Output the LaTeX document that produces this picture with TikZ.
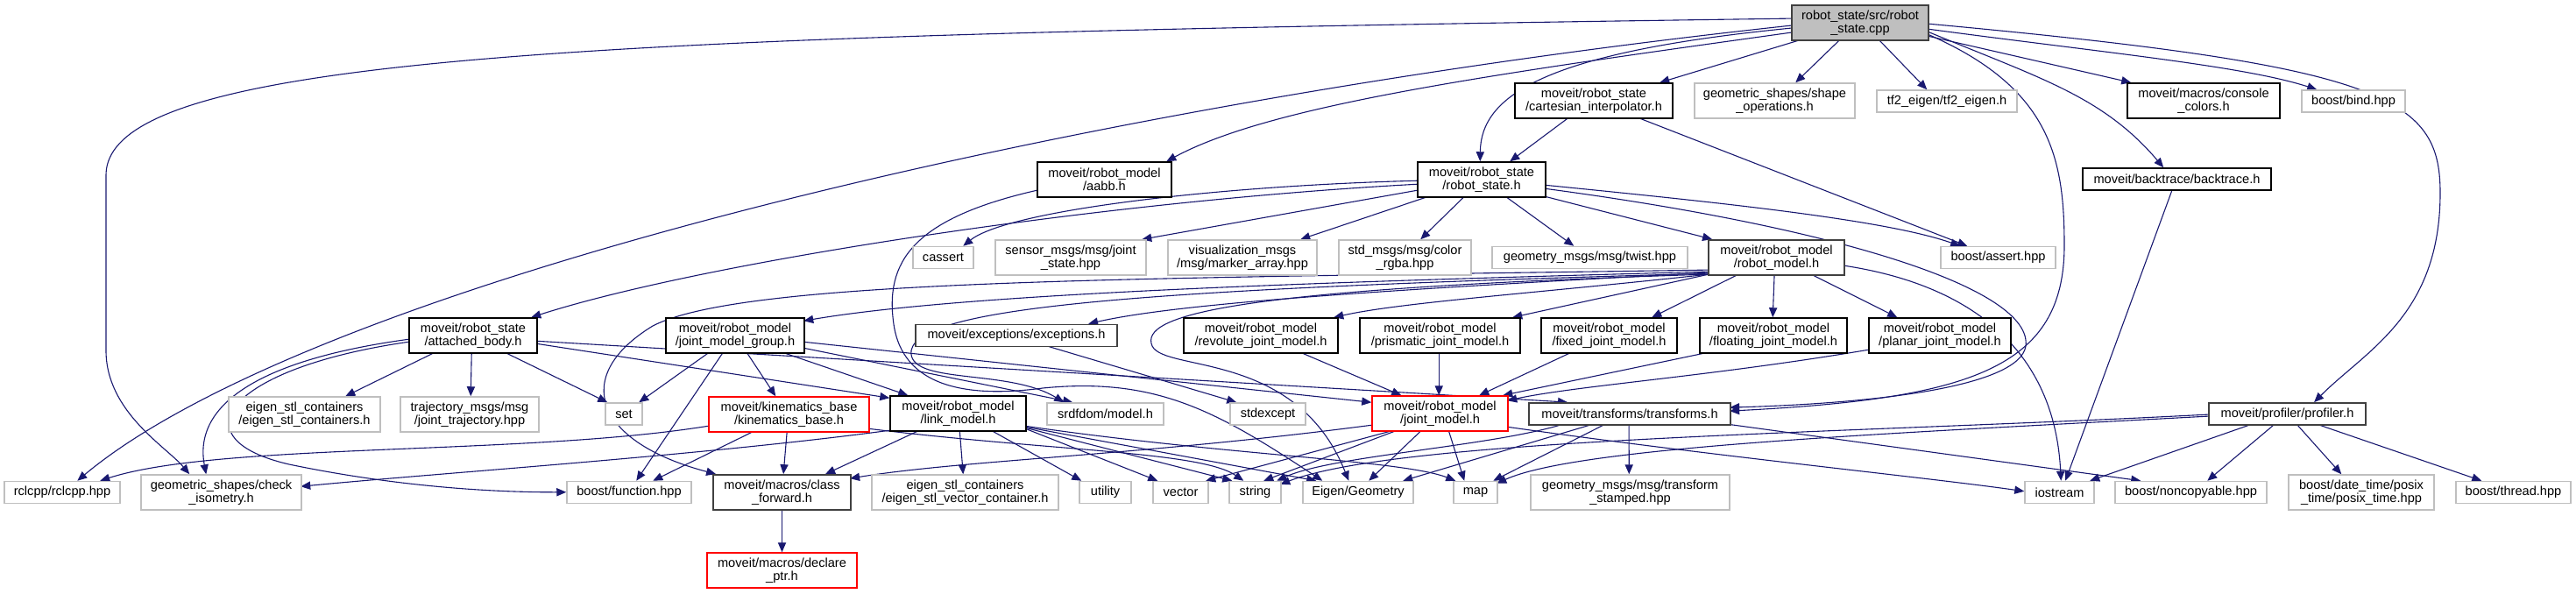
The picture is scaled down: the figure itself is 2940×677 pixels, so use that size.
\documentclass[tikz,border=0pt]{standalone}
\usepackage{fontspec}
\setmainfont{Liberation Sans}
\usetikzlibrary{arrows.meta,calc}
\definecolor{edgec}{HTML}{191970}
\definecolor{gbc}{HTML}{BFBFBF}
\definecolor{dbc}{HTML}{404040}
\definecolor{mainfill}{HTML}{BFBFBF}
\pgfdeclarelayer{bg}
\pgfsetlayers{bg,main}
\tikzset{
  e/.style={draw=edgec, line width=0.55pt, -{Triangle[length=5.5pt,width=4.6pt]}},
  nb/.style={rectangle, inner sep=0pt, align=center, fill=white, line width=0.75pt,
    font=\fontsize{7.3}{7.6}\selectfont},
  hA/.style={minimum height=12.5pt},
  hB/.style={minimum height=20pt},
  gb/.style={nb, draw=gbc},
  bb/.style={nb, draw=black},
  db/.style={nb, draw=dbc, line width=0.9pt},
  rb/.style={nb, draw=red},
  mb/.style={nb, draw=dbc, fill=mainfill, line width=0.9pt}
}
\begin{document}
\begin{tikzpicture}[x=0.5pt,y=-0.5pt]
\useasboundingbox (0,0) rectangle (2940,677);
% row 0
\node[mb,hB,minimum width=78pt] (cpp) at (2123,26) {robot\_state/src/robot\\\_state.cpp};
% row 1
\node[gb,hB,minimum width=91.5pt] (shapeop) at (2025.5,115) {geometric\_shapes/shape\\\_operations.h};
\node[gb,hA,minimum width=80pt] (tf2) at (2222,115.5) {tf2\_eigen/tf2\_eigen.h};
\node[bb,hB,minimum width=87pt] (console) at (2515,115) {moveit/macros/console\\\_colors.h};
\node[gb,hA,minimum width=59pt] (bind) at (2686,115.5) {boost/bind.hpp};
\node[bb,hB,minimum width=90pt] (cart) at (1819,115) {moveit/robot\_state\\/cartesian\_interpolator.h};
% row 2
\node[bb,hA,minimum width=107.5pt] (backtrace) at (2484.5,204.5) {moveit/backtrace/backtrace.h};
\node[bb,hB,minimum width=76.5pt] (aabb) at (1260.5,205) {moveit/robot\_model\\/aabb.h};
\node[bb,hB,minimum width=73pt] (rsh) at (1691,205) {moveit/robot\_state\\/robot\_state.h};
% row 3
\node[gb,hA,minimum width=34.5pt] (cassert) at (1076.5,294) {cassert};
\node[gb,hB,minimum width=86pt] (jstate) at (1222,294) {sensor\_msgs/msg/joint\\\_state.hpp};
\node[gb,hB,minimum width=85pt] (marker) at (1418,294) {visualization\_msgs\\/msg/marker\_array.hpp};
\node[gb,hB,minimum width=75.5pt] (color) at (1603.5,294) {std\_msgs/msg/color\\\_rgba.hpp};
\node[gb,hA,minimum width=111.5pt] (twist) at (1814.5,294) {geometry\_msgs/msg/twist.hpp};
\node[gb,hA,minimum width=65.5pt] (assert) at (2280.5,294) {boost/assert.hpp};
\node[db,hB,minimum width=77.5pt] (rmodel) at (2027.5,294) {moveit/robot\_model\\/robot\_model.h};
% row 4
\node[bb,hB,minimum width=73pt] (attached) at (540,383) {moveit/robot\_state\\/attached\_body.h};
\node[bb,hB,minimum width=79pt] (jmg) at (839,383) {moveit/robot\_model\\/joint\_model\_group.h};
\node[db,hA,minimum width=115pt] (exceptions) at (1160,383) {moveit/exceptions/exceptions.h};
\node[bb,hB,minimum width=88pt] (revolute) at (1439,383) {moveit/robot\_model\\/revolute\_joint\_model.h};
\node[bb,hB,minimum width=91.5pt] (prismatic) at (1643.5,383) {moveit/robot\_model\\/prismatic\_joint\_model.h};
\node[bb,hB,minimum width=77.5pt] (fixed) at (1836.5,383) {moveit/robot\_model\\/fixed\_joint\_model.h};
\node[bb,hB,minimum width=84pt] (floating) at (2024,383) {moveit/robot\_model\\/floating\_joint\_model.h};
\node[bb,hB,minimum width=81pt] (planar) at (2214,383) {moveit/robot\_model\\/planar\_joint\_model.h};
% row 5
\node[gb,hB,minimum width=86.5pt] (eigenstl) at (347.5,473) {eigen\_stl\_containers\\/eigen\_stl\_containers.h};
\node[gb,hB,minimum width=79pt] (traj) at (536,473) {trajectory\_msgs/msg\\/joint\_trajectory.hpp};
\node[gb,hA,minimum width=21pt] (set) at (712,472.5) {set};
\node[rb,hB,minimum width=91.5pt] (kin) at (900.5,473) {moveit/kinematics\_base\\/kinematics\_base.h};
\node[bb,hB,minimum width=77.5pt] (link) at (1093.5,472) {moveit/robot\_model\\/link\_model.h};
\node[gb,hA,minimum width=66.5pt] (srdf) at (1261.5,472.5) {srdfdom/model.h};
\node[gb,hA,minimum width=43pt] (stdexcept) at (1447,472.5) {stdexcept};
\node[rb,hB,minimum width=77.5pt] (jm) at (1643.5,472) {moveit/robot\_model\\/joint\_model.h};
\node[db,hA,minimum width=115pt] (transforms) at (1860,472.5) {moveit/transforms/transforms.h};
\node[db,hA,minimum width=89.5pt] (profiler) at (2610.5,472.5) {moveit/profiler/profiler.h};
% row 6
\node[gb,hA,minimum width=66pt] (rclcpp) at (71,562) {rclcpp/rclcpp.hpp};
\node[gb,hB,minimum width=91.5pt] (check) at (252.5,562) {geometric\_shapes/check\\\_isometry.h};
\node[gb,hA,minimum width=71pt] (function) at (718,562) {boost/function.hpp};
\node[db,hB,minimum width=78.5pt] (cf) at (892.5,562) {moveit/macros/class\\\_forward.h};
\node[gb,hB,minimum width=106.5pt] (esvc) at (1101.5,562) {eigen\_stl\_containers\\/eigen\_stl\_vector\_container.h};
\node[gb,hA,minimum width=29.5pt] (utility) at (1261.5,562) {utility};
\node[gb,hA,minimum width=31.5pt] (vector) at (1347.5,562) {vector};
\node[gb,hA,minimum width=29.5pt] (string) at (1432.5,562) {string};
\node[gb,hA,minimum width=63pt] (eigen) at (1550,562) {Eigen/Geometry};
\node[gb,hA,minimum width=25pt] (map) at (1684,562) {map};
\node[gb,hB,minimum width=113.5pt] (tstamped) at (1860.5,562) {geometry\_msgs/msg/transform\\\_stamped.hpp};
\node[gb,hA,minimum width=39.5pt] (iostream) at (2350.5,562) {iostream};
\node[gb,hA,minimum width=86.5pt] (noncopy) at (2500.5,562) {boost/noncopyable.hpp};
\node[gb,hB,minimum width=83pt] (posix) at (2695,562) {boost/date\_time/posix\\\_time/posix\_time.hpp};
\node[gb,hA,minimum width=65.5pt] (thread) at (2868.5,562) {boost/thread.hpp};
% row 7
\node[rb,hB,minimum width=85.5pt] (declare) at (892.5,651) {moveit/macros/declare\\\_ptr.h};

\begin{pgfonlayer}{bg}
% from cpp
\draw[e] ($(cpp.north west)+(0,27)$) .. controls (1760,60) and (1690,110) .. ($(rsh.north west)+(72,0)$);
\draw[e] ($(cpp.north west)+(12,40)$) -- ($(cart.north west)+(166,0)$);
\draw[e] ($(cpp.north west)+(0,32)$) .. controls (1700,85) and (1450,120) .. ($(aabb.north west)+(148,0)$);
\draw[e] ($(cpp.north west)+(56,40)$) -- ($(shapeop.north west)+(116,0)$);
\draw[e] ($(cpp.north west)+(100,40)$) -- ($(tf2.north west)+(58,0)$);
\draw[e] ($(cpp.north west)+(156,36)$) -- ($(console.north west)+(5,0)$);
\draw[e] ($(cpp.north west)+(156,28)$) .. controls (2400,60) and (2560,75) .. ($(bind.north west)+(18,0)$);
\draw[e] ($(cpp.north west)+(156,31)$) .. controls (2330,90) and (2400,110) .. ($(backtrace.north west)+(93,0)$);
\draw[e] ($(cpp.north west)+(156,22)$) .. controls (2720,75) and (2785,110) .. (2785,220) .. controls (2785,360) and (2700,400) .. ($(profiler.north west)+(121,0)$);
\draw[e] ($(cpp.north west)+(156,34)$) .. controls (2340,100) and (2356,180) .. (2356,280) .. controls (2356,420) and (2250,455) .. ($(transforms.north west)+(230,10)$);
\draw[e] ($(cpp.north west)+(0,24)$) .. controls (1200,120) and (350,330) .. ($(rclcpp.north west)+(84,0)$);
\draw[e] ($(cpp.north west)+(0,16)$) .. controls (700,40) and (121,60) .. (121,200) -- (121,400) .. controls (121,470) and (190,510) .. ($(check.north west)+(56,0)$);
% from robot_state.h
\draw[e] ($(rsh.north west)+(0,22)$) .. controls (1390,212) and (1150,240) .. ($(cassert.north west)+(58,0)$);
\draw[e] ($(rsh.north west)+(0,26)$) .. controls (1250,230) and (800,300) .. ($(attached.north west)+(140,0)$);
\draw[e] ($(rsh.north west)+(0,33)$) -- ($(jstate.north west)+(168,0)$);
\draw[e] ($(rsh.north west)+(13,40)$) -- ($(marker.north west)+(152,0)$);
\draw[e] ($(rsh.north west)+(54,40)$) -- ($(color.north west)+(94,0)$);
\draw[e] ($(rsh.north west)+(101,40)$) -- ($(twist.north west)+(94,0)$);
\draw[e] ($(rsh.north west)+(146,40)$) -- ($(rmodel.north west)+(5,0)$);
\draw[e] ($(rsh.north west)+(146,27)$) .. controls (1950,230) and (2150,250) .. ($(assert.north west)+(23,0)$);
\draw[e] ($(rsh.north west)+(146,31)$) .. controls (2100,260) and (2320,330) .. (2312,395) .. controls (2305,440) and (2150,460) .. ($(transforms.north west)+(230,6)$);
% cartesian
\draw[e] ($(cart.north west)+(62,40)$) -- ($(rsh.north west)+(106,0)$);
\draw[e] ($(cart.north west)+(141,40)$) -- ($(assert.north west)+(31,0)$);
% aabb
\draw[e] ($(aabb.north west)+(0,33)$) .. controls (1040,250) and (1010,300) .. (1020,370) .. controls (1030,440) and (1100,455) .. (1190,443) .. controls (1320,430) and (1390,470) .. ($(eigen.north west)+(23,0)$);
% robot_model
\draw[e] ($(rmodel.north west)+(1,38)$) .. controls (1600,330) and (1350,345) .. ($(exceptions.north west)+(198,0)$);
\draw[e] ($(rmodel.north west)+(1,40)$) .. controls (1750,335) and (1600,345) .. ($(revolute.north west)+(172,0)$);
\draw[e] ($(rmodel.north west)+(1,40)$) -- ($(prismatic.north west)+(175,0)$);
\draw[e] ($(rmodel.north west)+(35,40)$) -- ($(fixed.north west)+(127,0)$);
\draw[e] ($(rmodel.north west)+(76,40)$) -- ($(floating.north west)+(84,0)$);
\draw[e] ($(rmodel.north west)+(118,40)$) -- ($(planar.north west)+(33,0)$);
\draw[e] ($(rmodel.north west)+(0,37)$) .. controls (1500,322) and (1100,335) .. ($(jmg.north west)+(158,4)$);
\draw[e] ($(rmodel.north west)+(0,35)$) .. controls (1300,318) and (850,318) .. (745,372) .. controls (650,430) and (680,505) .. ($(cf.north west)+(4,0)$);
\draw[e] ($(rmodel.north west)+(0,39)$) .. controls (1300,330) and (1050,350) .. (1040,400) .. controls (1035,440) and (1150,420) .. ($(srdf.north west)+(20,0)$);
\draw[e] ($(rmodel.north west)+(0,40)$) .. controls (1400,330) and (1300,360) .. (1315,395) .. controls (1330,425) and (1480,400) .. ($(eigen.north west)+(53,0)$);
\draw[e] ($(rmodel.north west)+(155,30)$) .. controls (2250,325) and (2345,400) .. ($(iostream.north west)+(42,0)$);
% attached_body
\draw[e] ($(attached.north west)+(30,40)$) -- ($(eigenstl.north west)+(134,0)$);
\draw[e] ($(attached.north west)+(72,40)$) -- ($(traj.north west)+(81,0)$);
\draw[e] ($(attached.north west)+(110,40)$) -- ($(set.north west)+(3,0)$);
\draw[e] ($(attached.north west)+(0,25)$) .. controls (300,410) and (220,460) .. ($(check.north west)+(75,0)$);
\draw[e] ($(attached.north west)+(0,28)$) .. controls (260,420) and (200,500) .. (330,530) .. controls (450,555) and (560,562) .. ($(function.north west)+(0,13)$);
\draw[e] ($(attached.north west)+(146,30)$) -- ($(link.north west)+(0,3)$);
\draw[e] ($(attached.north west)+(146,27)$) -- ($(transforms.north west)+(45,0)$);
% joint_model_group
\draw[e] ($(jmg.north west)+(50,40)$) -- ($(set.north west)+(39,0)$);
\draw[e] ($(jmg.north west)+(66,40)$) -- ($(function.north west)+(80,0)$);
\draw[e] ($(jmg.north west)+(93,40)$) -- ($(kin.north west)+(77,0)$);
\draw[e] ($(jmg.north west)+(134,40)$) -- ($(link.north west)+(21,0)$);
\draw[e] ($(jmg.north west)+(158,35)$) -- ($(srdf.north west)+(30,0)$);
\draw[e] ($(jmg.north west)+(158,28)$) -- ($(jm.north west)+(0,8)$);
% kinematics_base
\draw[e] ($(kin.north west)+(0,34)$) .. controls (600,520) and (250,505) .. ($(rclcpp.north west)+(110,0)$);
\draw[e] ($(kin.north west)+(52,40)$) -- ($(function.north west)+(99,0)$);
\draw[e] ($(kin.north west)+(90,40)$) -- ($(cf.north west)+(81,0)$);
\draw[e] ($(kin.north west)+(183,37)$) .. controls (1200,515) and (1370,515) .. ($(string.north west)+(17,0)$);
% link_model
\draw[e] ($(link.north west)+(0,40)$) .. controls (800,520) and (500,540) .. ($(check.north west)+(183,14)$);
\draw[e] ($(link.north west)+(34,40)$) -- ($(cf.north west)+(129,0)$);
\draw[e] ($(link.north west)+(80,40)$) -- ($(esvc.north west)+(105,0)$);
\draw[e] ($(link.north west)+(116,40)$) -- ($(utility.north west)+(3,0)$);
\draw[e] ($(link.north west)+(155,38)$) -- ($(vector.north west)+(6,0)$);
\draw[e] ($(link.north west)+(155,37)$) -- ($(string.north west)+(4,0)$);
\draw[e] ($(link.north west)+(155,36)$) -- ($(eigen.north west)+(16,0)$);
\draw[e] ($(link.north west)+(155,35)$) .. controls (1400,520) and (1600,525) .. ($(map.north west)+(3,0)$);
% joint_model
\draw[e] ($(jm.north west)+(0,34)$) .. controls (1300,520) and (1100,525) .. ($(cf.north west)+(157,5)$);
\draw[e] ($(jm.north west)+(25,40)$) -- ($(vector.north west)+(61,0)$);
\draw[e] ($(jm.north west)+(29,40)$) -- ($(string.north west)+(40,0)$);
\draw[e] ($(jm.north west)+(57,40)$) -- ($(eigen.north west)+(76,0)$);
\draw[e] ($(jm.north west)+(88,40)$) -- ($(map.north west)+(13,0)$);
\draw[e] ($(jm.north west)+(155,36)$) .. controls (1950,520) and (2200,545) .. ($(iostream.north west)+(0,12)$);
% transforms
\draw[e] ($(transforms.north west)+(40,25)$) .. controls (1700,510) and (1520,520) .. ($(string.north west)+(55,0)$);
\draw[e] ($(transforms.north west)+(74,25)$) -- ($(eigen.north west)+(115,0)$);
\draw[e] ($(transforms.north west)+(88,25)$) -- ($(map.north west)+(46,0)$);
\draw[e] ($(transforms.north west)+(115,25)$) -- ($(tstamped.north west)+(113,0)$);
\draw[e] ($(transforms.north west)+(227,25)$) -- ($(noncopy.north west)+(30,0)$);
% profiler
\draw[e] ($(profiler.north west)+(50,25)$) -- ($(iostream.north west)+(75,0)$);
\draw[e] ($(profiler.north west)+(76,25)$) -- ($(noncopy.north west)+(106,0)$);
\draw[e] ($(profiler.north west)+(101,25)$) -- ($(posix.north west)+(61,0)$);
\draw[e] ($(profiler.north west)+(124,25)$) -- ($(thread.north west)+(30,0)$);
\draw[e] ($(profiler.north west)+(0,16)$) .. controls (2150,495) and (1800,510) .. ($(map.north west)+(50,3)$);
\draw[e] ($(profiler.north west)+(0,14)$) .. controls (2100,495) and (1600,500) .. ($(string.north west)+(59,4)$);
% backtrace
\draw[e] ($(backtrace.north west)+(103,25)$) -- ($(iostream.north west)+(47,0)$);
% exceptions
\draw[e] ($(exceptions.north west)+(153,26)$) -- ($(stdexcept.north west)+(8,0)$);
% joint model types
\draw[e] ($(revolute.north west)+(134,40)$) -- ($(jm.north west)+(34,0)$);
\draw[e] ($(prismatic.north west)+(91,40)$) -- ($(jm.north west)+(77,0)$);
\draw[e] ($(fixed.north west)+(35,40)$) -- ($(jm.north west)+(123,0)$);
\draw[e] ($(floating.north west)+(10,40)$) -- ($(jm.north west)+(150,0)$);
\draw[e] ($(planar.north west)+(0,37)$) .. controls (1950,430) and (1800,440) .. ($(jm.north west)+(155,6)$);
% class_forward
\draw[e] (cf.south) -- (declare.north);
\end{pgfonlayer}
\end{tikzpicture}
\end{document}
